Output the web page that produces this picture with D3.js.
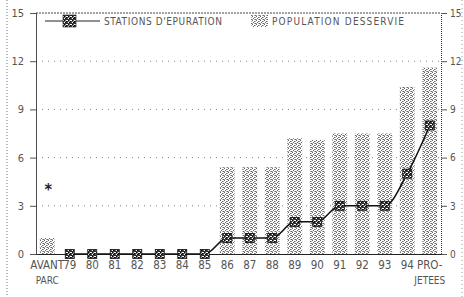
<!DOCTYPE html>
<html>
<head>
<meta charset="utf-8">
<script src="https://cdn.jsdelivr.net/npm/d3@7"></script>
<style>
  body { margin: 0; background: #fff; }
  text { font-family: "Liberation Sans Narrow", "DejaVu Sans Condensed", sans-serif; fill: #555; }
</style>
</head>
<body>
<div id="chart"></div>
<script>
// categories on the x axis (second label line where there is one)
const years = ["AVANT", "79", "80", "81", "82", "83", "84", "85", "86", "87", "88", "89", "90", "91", "92", "93", "94", "PRO-"];
const subLabels = {"AVANT": "PARC", "PRO-": "JETEES"};

// population desservie (bars)
const population = [1, 0, 0, 0, 0, 0, 0, 0, 5.4, 5.4, 5.4, 7.2, 7.1, 7.5, 7.5, 7.5, 10.4, 11.6];
// stations d'epuration (line), null = not joined
const stations = [null, 0, 0, 0, 0, 0, 0, 0, 1, 1, 1, 2, 2, 3, 3, 3, 5, 8];
// the lone asterisk above "AVANT"
const avantStar = 4.1;

const yTicks = [0, 3, 6, 9, 12, 15];

const W = 464, H = 297;
const margin = {left: 36, right: 23, top: 13, bottom: 43};

const svg = d3.select("#chart").append("svg")
  .attr("width", W).attr("height", H);

// stipple patterns
const defs = svg.append("defs");
function stipple(id, dark, light, size) {
  let p = defs.append("pattern").attr("id", id)
    .attr("width", 4).attr("height", 4).attr("patternUnits", "userSpaceOnUse");
  p.append("rect").attr("width", 4).attr("height", 4).attr("fill", "#fff");
  [[0,0],[2,1],[1,2],[3,3],[0,3],[3,1],[2,3]].forEach((d, i) => {
    p.append("rect").attr("x", d[0]).attr("y", d[1]).attr("width", size).attr("height", size)
      .attr("fill", i < 4 ? dark : light);
  });
}
stipple("bars", "#666", "#aaa", 1);
stipple("mark", "#000", "#333", 1.6);

const x = d3.scaleBand().domain(years)
  .range([margin.left, W - margin.right]).paddingInner(0.34).paddingOuter(0.17);
const y = d3.scaleLinear().domain([0, 15]).range([H - margin.bottom, margin.top]);

// outer frame (dotted left / right edges)
svg.append("line").attr("x1", 7).attr("x2", 7).attr("y1", 0).attr("y2", H)
  .attr("stroke", "#777").attr("stroke-dasharray", "1,2");
svg.append("line").attr("x1", W - 2).attr("x2", W - 2).attr("y1", 0).attr("y2", H)
  .attr("stroke", "#999").attr("stroke-dasharray", "1,3");

// grid
svg.append("g").selectAll("line").data(yTicks.filter(d => d > 0)).enter().append("line")
  .attr("x1", margin.left).attr("x2", W - margin.right)
  .attr("y1", d => y(d)).attr("y2", d => y(d))
  .attr("stroke", d => d === 15 ? "#444" : "#888")
  .attr("stroke-dasharray", d => d === 15 ? "2,1" : "1,5");

// bars
svg.append("g").selectAll("rect").data(years).enter()
  .filter((d, i) => population[i] > 0)
  .append("rect")
  .attr("x", d => x(d))
  .attr("width", x.bandwidth())
  .attr("y", d => y(population[years.indexOf(d)]))
  .attr("height", d => y(0) - y(population[years.indexOf(d)]))
  .attr("fill", "url(#bars)");

// axes
const yLeft = d3.axisLeft(y).tickValues(yTicks).tickSize(6).tickPadding(6);
const gl = svg.append("g").attr("transform", `translate(${margin.left},0)`).call(yLeft);
const yRight = d3.axisRight(y).tickValues(yTicks).tickSize(6).tickPadding(3);
const gr = svg.append("g").attr("transform", `translate(${W - margin.right},0)`).call(yRight);
[gl, gr].forEach(g => {
  g.select(".domain").attr("stroke", "#333").attr("stroke-dasharray", "1,1");
  g.selectAll(".tick line").attr("stroke", "#555");
  g.selectAll(".tick text").attr("font-size", 11).attr("fill", "#777");
});
gr.selectAll(".tick text").attr("font-size", 10);
gl.select(".domain").attr("stroke", "#222").attr("stroke-dasharray", null).attr("stroke-width", 0.8);

const xAxis = d3.axisBottom(x).tickSize(0).tickPadding(7);
const gx = svg.append("g").attr("transform", `translate(0,${y(0)})`).call(xAxis);
gx.select(".domain").attr("stroke", "#222").attr("stroke-width", 1.2);
gx.selectAll(".tick text").attr("font-size", 11.5).attr("fill", "#555");
gx.selectAll(".tick").filter(d => subLabels[d]).append("text")
  .attr("y", 23).attr("dy", "0.71em").attr("font-size", 10).attr("fill", "#666")
  .attr("text-anchor", "middle").text(d => subLabels[d]);

// line
const cx = d => x(d) + x.bandwidth() / 2;
const line = d3.line()
  .defined((d, i) => stations[i] !== null)
  .x(d => cx(d))
  .y((d, i) => y(stations[i]))
  .curve(d3.curveMonotoneX);
svg.append("path").datum(years).attr("d", line)
  .attr("fill", "none").attr("stroke", "#111").attr("stroke-width", 1.5);

svg.append("g").selectAll("rect").data(years).enter()
  .filter((d, i) => stations[i] !== null)
  .append("rect")
  .attr("x", d => cx(d) - 4.5).attr("y", d => y(stations[years.indexOf(d)]) - 4.5)
  .attr("width", 9).attr("height", 9)
  .attr("fill", "url(#mark)").attr("stroke", "#111").attr("stroke-width", 0.8);

svg.append("text").attr("x", cx("AVANT") + 1).attr("y", y(avantStar) + 7)
  .attr("text-anchor", "middle").attr("font-size", 16).attr("font-weight", "bold")
  .style("fill", "#222").text("*");

// legend
const lg = svg.append("g");
lg.append("line").attr("x1", 45).attr("x2", 100).attr("y1", 21).attr("y2", 21)
  .attr("stroke", "#222").attr("stroke-width", 1.2);
lg.append("rect").attr("x", 63).attr("y", 15).attr("width", 13).attr("height", 12)
  .attr("fill", "url(#mark)").attr("stroke", "#111").attr("stroke-width", 0.6);
lg.append("text").attr("x", 104).attr("y", 25).attr("font-size", 10).attr("textLength", 118)
  .attr("fill", "#777").text("STATIONS D'EPURATION");
lg.append("rect").attr("x", 251).attr("y", 15).attr("width", 17).attr("height", 12)
  .attr("fill", "url(#bars)");
lg.append("text").attr("x", 272).attr("y", 25).attr("font-size", 10).attr("textLength", 132)
  .attr("fill", "#777").text("POPULATION DESSERVIE");
</script>
</body>
</html>
